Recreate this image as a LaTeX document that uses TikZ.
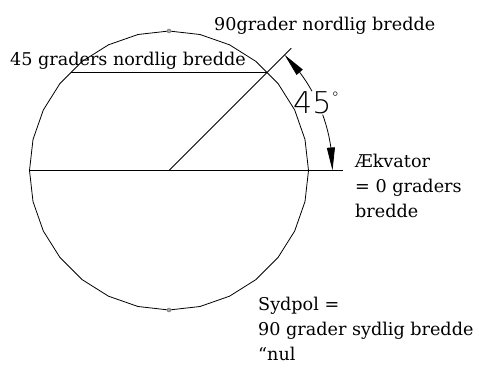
\documentclass[tikz,border=0pt]{standalone}
\usepackage{fontspec}
\setmainfont{DejaVu Serif}
\newfontfamily\dimfont{DejaVu Sans ExtraLight}
\usetikzlibrary{calc,arrows.meta,bending}

\tikzset{
  globe/.style={line width=0.8bp},
  lbl/.style={inner sep=0pt, font=\fontsize{17.6bp}{25bp}\selectfont, align=left},
  dimarrow/.style={line width=0.8bp, -{Triangle[length=23bp,width=8bp]}},
  pole/.style={circle, draw=black!60, fill=black!35, inner sep=0pt, minimum size=4bp}
}

\begin{document}
\begin{tikzpicture}[x=1bp,y=1bp]
\useasboundingbox (0,0) rectangle (479,367);
\coordinate (C) at (169,196.5);
% jordkloden
\draw[globe] plot[samples=29,domain=0:360] ({169+139.5*cos(\x)},{196.5+139.5*sin(\x)}) -- cycle;
\coordinate (W) at ($(C)+(180:139.5)$);
\coordinate (E) at (342.7,196.5);
\coordinate (N45) at ($(C)+(45:173)$);
\coordinate (L1) at ($(C)+(135:138.6)$);
\coordinate (L2) at ($(C)+(45:138.6)$);
\draw[globe] (W) -- (E);
\draw[globe] (C) -- (N45);
\draw[globe] (L1) -- (L2);
% polerne
\node[pole] (np) at ($(C)+(90:139.5)$) {};
\node[pole] (sp) at ($(C)+(270:139.5)$) {};
% vinkelmaal
\draw[dimarrow] ($(C)+(29:163.5)$) arc[start angle=29,end angle=45,radius=163.5];
\draw[dimarrow] ($(C)+(20:163.5)$) arc[start angle=20,end angle=0,radius=163.5];
\node[inner sep=0pt, anchor=base west, font=\dimfont\fontsize{30bp}{30bp}\selectfont] (ang) at (293,254)
  {45\raisebox{10bp}{\fontsize{16bp}{16bp}\selectfont °}};
% tekster
\node[lbl, anchor=base west] (nord90) at (214,337) {90grader nordlig bredde};
\node[lbl, anchor=base west] (nord45) at (10,302) {45 graders nordlig bredde};
\node[lbl, anchor=north west] (ekv) at (355,213.3) {Ækvator\\= 0 graders\\bredde};
\node[lbl, anchor=north west] (syd) at (258,70.4) {Sydpol =\\90 grader sydlig bredde\\“nul};
\end{tikzpicture}
\end{document}
